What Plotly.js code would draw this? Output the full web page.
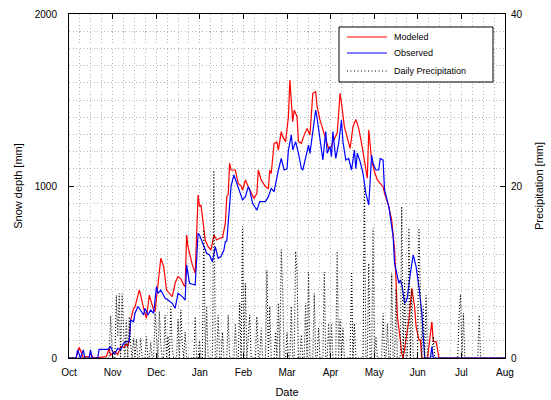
<!DOCTYPE html>
<html>
<head>
<meta charset="utf-8">
<script src="https://cdn.plot.ly/plotly-3.0.1.min.js"></script>
<style>html,body{margin:0;padding:0;background:#fff;}#chart{width:551px;height:400px;}</style>
</head>
<body>
<div id="chart"></div>
<script>
// Month tick labels (evenly spaced, ~30.4 days apart, starting 1 Oct)
const monthLabels = ['Oct','Nov','Dec','Jan','Feb','Mar','Apr','May','Jun','Jul','Aug'];

// Modeled snow depth [mm] (day offset from 1 Oct)
const modeledDays = [0,5,7,8,10,12,14,15,17,26,28,29,32,34,36,38,40,41,42,43,45,46,49,50,52,54,56,59,60,62,64,66,68,72,74,76,78,80,81,82,83,86,88,90,91,92,95,97,99,101,103,105,107,109,110,111,112,113,116,118,120,121,123,125,127,129,131,132,134,137,139,140,141,143,145,146,148,149,151,153,154,156,157,159,160,162,164,166,168,170,172,173,175,177,179,181,183,184,187,189,190,192,196,198,200,202,204,206,208,209,211,213,215,217,219,220,223,225,227,228,229,231,232,233,235,237,239,241,242,244,245,246,250,251,253,254,256,258,304];
const modeledDepth = [0,0,62,45,0,10,5,27,0,8,56,17,37,20,66,62,81,66,105,221,289,295,395,366,289,231,366,279,269,434,580,531,395,357,436,473,460,424,415,715,647,541,492,948,880,890,686,647,628,715,686,696,700,783,938,950,1132,1093,1093,1015,1000,977,1035,996,957,928,957,1093,1035,996,986,1093,1073,1248,1255,1209,1316,1287,1258,1403,1616,1374,1442,1403,1258,1248,1297,1335,1297,1539,1548,1461,1384,1326,1267,1219,1230,1258,1306,1539,1481,1345,1219,1345,1387,1335,1248,1132,1045,1326,1151,1083,1035,1015,996,957,880,802,628,453,240,105,27,0,105,221,405,298,182,105,105,0,0,85,211,95,95,0,0];

// Observed snow depth [mm]
const observedDays = [0,5,6,8,10,11,14,15,16,20,21,27,29,31,32,34,36,38,40,42,43,45,46,48,49,52,53,55,57,59,61,62,64,67,69,72,74,76,79,81,82,83,84,88,90,91,94,96,98,100,102,104,106,108,109,110,111,113,115,117,119,121,123,125,126,128,131,133,137,139,141,143,146,147,148,150,152,153,155,156,158,160,162,163,165,167,168,169,172,173,175,177,179,180,182,183,184,186,188,190,191,193,195,197,199,200,201,203,205,206,207,209,211,212,214,216,217,219,220,223,224,226,227,230,231,232,233,234,235,236,238,240,242,244,246,247,248,252,253,254,304];
const observedDepth = [0,0,47,0,47,0,0,47,0,0,50,50,66,27,27,56,47,85,95,95,221,211,260,298,289,250,289,250,279,260,415,376,395,347,337,318,289,376,357,337,541,473,434,424,725,715,647,609,599,560,647,580,590,628,676,680,783,1000,1064,1015,977,919,938,996,977,899,860,909,909,938,986,967,1093,1132,1160,1093,1100,1209,1297,1209,1258,1190,1103,1093,1171,1238,1190,1258,1442,1394,1258,1151,1316,1190,1230,1171,1316,1160,1248,1384,1258,1151,1160,1093,1209,1100,1190,1142,1073,1006,957,890,1180,1132,1093,1093,1160,1150,977,880,822,706,551,434,453,430,376,318,330,357,492,599,531,415,260,124,0,0,66,0,0];

// Daily precipitation [mm], one value per day from 1 Oct (day 0) to 1 Aug (day 304)
const dailyPrecip = [
0,0,0,0,0,0,0,0,0,0,
0,0,0,0,0,0,0,0,0,0,
0,0,0,0,0,0,0,0,0,4.9,
1.2,0,0,7.3,2.5,7.5,0,7.5,3.0,0,
4.4,0,4.8,1.5,0,2.3,0,2.2,0,0,
2.3,0,0,0,2.5,0,0,1.8,0,0,
5.2,2.0,0,5.4,1.5,0,0,5.0,0,2.5,
0,6.0,1.0,0,0,0,4.5,0,5.6,1.5,
0,3.0,0,0,0,0,0,0,4.8,0,
0,2.0,0,0,14.9,0,6.0,0,0,0,
0,21.8,0,0,5.0,0,0,3.0,0,0,
0,5.0,0,0,0,0,4.0,0,0,6.4,
0,15.3,0,8.7,0,3.0,5.0,0,0,0,
0,4.8,0,0,3.5,0,0,0,10.2,0,
6.0,0,0,0,3.0,0,6.4,0,12.6,8.0,
0,0,3.0,0,0,6.0,0,0,12.4,10.0,
0,0,2.7,0,0,6.4,0,10.0,0,0,
0,7.5,0,0,3.5,0,0,0,10.0,0,
0,4.0,0,4.0,0,0,0,12.4,0,4.5,
0,3.5,0,0,0,0,0,10.0,0,4.0,
0,0,0,0,0,0,19.9,0,0,11.0,
0,0,15.1,0,2.5,0,0,0,0,5.2,
0,0,4.0,0,0,9.8,0,0,8.0,0,
0,0,17.6,0,9.0,0,0,15.1,0,8.0,
0,0,0,0,15.1,9.0,0,6.0,0,7.3,
0,0,0,0,2.5,0,0,0,0,0,
0,0,0,0,0,0,0,0,0,0,
0,0,5.0,7.4,0,5.2,0,0,0,0,
0,0,0,0,0,0,5.0,0,0,0,
0,0,0,0,0,0,0,0,0,0,
0,0,0,0,0
];
const precipDays = dailyPrecip.map((v, i) => i);

const monthStep = 30.4;
const tickPositions = monthLabels.map((m, i) => i * monthStep);

const FONT = 'Liberation Sans, Arial, Helvetica, sans-serif';
const GRID = '#b4b4b4';
const GDASH = '1px,2.5px';

const traces = [
  {x: modeledDays, y: modeledDepth, type: 'scatter', mode: 'lines', name: 'Modeled',
   line: {color: '#ff0000', width: 1.2}, xaxis: 'x', yaxis: 'y'},
  {x: observedDays, y: observedDepth, type: 'scatter', mode: 'lines', name: 'Observed',
   line: {color: '#0000ff', width: 1.2}, xaxis: 'x', yaxis: 'y'},
  {x: precipDays, y: dailyPrecip, type: 'scatter', mode: 'lines', name: 'Daily Precipitation',
   line: {color: '#000000', width: 1.1, dash: '1px,2px'}, xaxis: 'x', yaxis: 'y2'}
];

// legend box geometry (paper coordinates of plot area)
const lx0 = 0.6193, lx1 = 0.9725, ly0 = 0.8023, ly1 = 0.9622;
const sx0 = 0.6376, sx1 = 0.7294, tx = 0.7408;
const rows = [0.9331, 0.8866, 0.8343];

const layout = {
  width: 551, height: 400,
  margin: {l: 69, r: 46, t: 14, b: 42, pad: 0},
  paper_bgcolor: '#ffffff', plot_bgcolor: '#ffffff',
  font: {family: FONT, size: 10, color: '#000'},
  showlegend: false,
  xaxis: {
    range: [0, 304], tickmode: 'array', tickvals: tickPositions, ticktext: monthLabels,
    ticks: 'inside', ticklen: 5, tickwidth: 1, tickcolor: '#000',
    showline: true, linecolor: '#000', linewidth: 1, mirror: 'ticks',
    showgrid: true, gridcolor: GRID, griddash: GDASH, gridwidth: 1,
    minor: {tickmode: 'linear', tick0: 0, dtick: monthStep / 4, showgrid: true,
            gridcolor: GRID, griddash: GDASH, gridwidth: 1, ticks: ''},
    zeroline: false, tickfont: {size: 10}, ticklabelstandoff: 5,
    title: {text: 'Date', font: {size: 11}, standoff: 11}
  },
  yaxis: {
    range: [0, 2000], tickmode: 'array', tickvals: [0, 1000, 2000],
    ticks: 'inside', ticklen: 5, tickwidth: 1, tickcolor: '#000',
    showline: true, linecolor: '#000', linewidth: 1, mirror: 'ticks',
    showgrid: true, gridcolor: GRID, griddash: GDASH, gridwidth: 1,
    minor: {tickmode: 'linear', tick0: 0, dtick: 100, showgrid: true,
            gridcolor: GRID, griddash: GDASH, gridwidth: 1, ticks: ''},
    zeroline: false, tickfont: {size: 10}, ticklabelstandoff: 9,
    title: {text: 'Snow depth [mm]', font: {size: 11}, standoff: 9}
  },
  yaxis2: {
    overlaying: 'y', side: 'right', range: [0, 40], tickmode: 'array', tickvals: [0, 20, 40],
    ticks: 'inside', ticklen: 5, tickwidth: 1, tickcolor: '#000',
    showline: false, showgrid: false, zeroline: false,
    tickfont: {size: 10}, ticklabelstandoff: 5,
    title: {text: 'Precipitation [mm]', font: {size: 11}}
  },
  shapes: [
    {type: 'rect', xref: 'paper', yref: 'paper', x0: lx0, x1: lx1, y0: ly0, y1: ly1,
     line: {color: '#000', width: 1}, fillcolor: '#ffffff', layer: 'above'},
    {type: 'line', xref: 'paper', yref: 'paper', x0: sx0, x1: sx1, y0: rows[0], y1: rows[0],
     line: {color: '#ff0000', width: 1.2}, layer: 'above'},
    {type: 'line', xref: 'paper', yref: 'paper', x0: sx0, x1: sx1, y0: rows[1], y1: rows[1],
     line: {color: '#0000ff', width: 1.2}, layer: 'above'},
    {type: 'line', xref: 'paper', yref: 'paper', x0: sx0, x1: sx1, y0: rows[2], y1: rows[2],
     line: {color: '#000000', width: 1.1, dash: '1px,2.5px'}, layer: 'above'}
  ],
  annotations: ['Modeled', 'Observed', 'Daily Precipitation'].map((t, i) => ({
    text: t, xref: 'paper', yref: 'paper', x: tx, y: rows[i], xanchor: 'left', yanchor: 'middle',
    showarrow: false, font: {size: 9, family: FONT, color: '#000'}
  }))
};

Plotly.newPlot('chart', traces, layout, {staticPlot: true, displayModeBar: false});
</script>
</body>
</html>
